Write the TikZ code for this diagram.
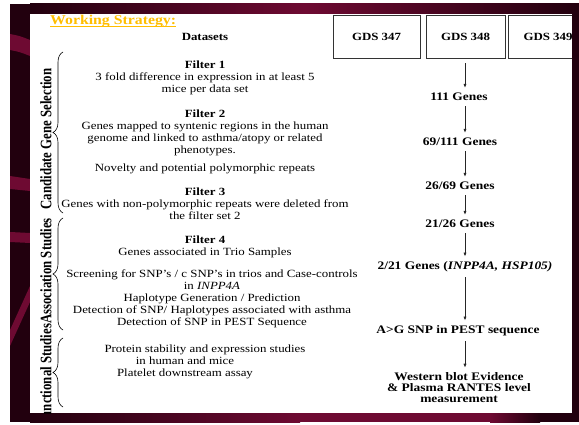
\documentclass[tikz,border=0pt]{standalone}
\usepackage{graphicx}
\usepackage{fontspec}
\setmainfont{Liberation Serif}[FakeStretch=1.17]
\newfontfamily\sidefont{Liberation Serif}
\usetikzlibrary{arrows.meta,decorations.pathreplacing}

\definecolor{frameDark}{RGB}{34,0,14}
\definecolor{frameRed}{RGB}{110,10,50}
\definecolor{titleGold}{RGB}{255,190,0}

\newcommand{\stagelbl}[1]{\scalebox{0.8}[1]{#1}}

\tikzset{
  txt/.style={align=center, inner sep=0pt, anchor=north, font=\fontsize{11}{12}\selectfont},
  head/.style={txt, font=\fontsize{11}{12}\selectfont\bfseries},
  res/.style={align=center, inner sep=0pt, font=\fontsize{11.5}{11}\selectfont\bfseries},
  gds/.style={draw=black!80, line width=0.9pt, minimum height=43pt, inner sep=0pt, font=\fontsize{11}{12}\selectfont\bfseries},
  arr/.style={-{Latex[length=4pt,width=3.2pt]}, line width=0.9pt, black!85, shorten <=5pt, shorten >=5pt},
  brc/.style={decorate, decoration={brace, amplitude=10pt}, line width=0.6pt},
  side/.style={rotate=90, inner sep=0pt, font=\sidefont\fontsize{16}{16}\selectfont\bfseries}
}

\begin{document}
\begin{tikzpicture}[x=1pt, y=-1pt]
  \useasboundingbox (0,0) rectangle (579,425);

  % slide frame
  \fill[white] (0,0) rectangle (579,425);
  \fill[frameDark] (10,4) rectangle (579,422);
  \shade[left color=frameDark, right color=frameDark, middle color=frameRed] (30,4) rectangle (579,14);
  \shade[left color=frameDark, right color=frameRed] (30,413) rectangle (300,422);
  \fill[frameRed] (300,413) rectangle (490,422);
  \shade[left color=frameRed, right color=frameDark] (490,413) rectangle (540,422);
  \fill[frameRed] (10,34) .. controls (20,36) .. (30,40) -- (30,56) .. controls (20,52) .. (10,50) -- cycle;
  \fill[frameRed] (10,176) -- (30,179) -- (30,191) -- (10,189) -- cycle;
  \fill[frameRed] (10,232) -- (30,233) -- (30,243) -- (10,242) -- cycle;
  \fill[frameRed] (10,330) -- (30,286) -- (30,302) -- (10,346) -- cycle;
  \fill[white] (30,14) rectangle (572,413);

  \begin{scope}
    \clip (30,14) rectangle (572,413);

    \node[anchor=base west, inner sep=0pt, text=titleGold, font=\fontsize{13.5}{14}\selectfont\bfseries] (title) at (50,25) {Working Strategy:};
    \draw[titleGold, line width=1pt] ([yshift=-2pt]title.base west) -- ([yshift=-2pt]title.base east);

    % filters
    \node[head] (datasets) at (205,33) {Datasets};
    \node[txt] (filt1) at (205,61) {\textbf{Filter 1}\\3 fold difference in expression in at least 5\\mice per data set};
    \node[txt] (filt2) at (205,110) {\textbf{Filter 2}\\Genes mapped to syntenic regions in the human\\genome and linked to asthma/atopy or related\\phenotypes.};
    \node[txt] (novel) at (205,164) {Novelty and potential polymorphic repeats};
    \node[txt] (filt3) at (205,188) {\textbf{Filter 3}\\Genes with non-polymorphic repeats were deleted from\\the filter set 2};
    \node[txt] (filt4) at (205,236) {\textbf{Filter 4}\\Genes associated in Trio Samples};
    \node[txt] (screen) at (212,270) {Screening for SNP's / c SNP's in trios and Case-controls\\in \textit{INPP4A}\\Haplotype Generation / Prediction\\Detection of SNP/ Haplotypes associated with asthma\\Detection of SNP in PEST Sequence};
    \node[txt] (protein) at (205,345) {Protein stability and expression studies};
    \node[txt] (platelet) at (185,357) {in human and mice\\Platelet downstream assay};

    % stages
    \node[side] (cand) at (46,139) {\stagelbl{Candidate Gene Selection}};
    \node[side] (assoc) at (46,271) {\stagelbl{Association Studies}};
    \node[side] (func) at (46,375) {\stagelbl{Functional Studies}};
    \draw[brc] (63,213) -- (63,52);
    \draw[brc] (63,330) -- (63,218);
    \draw[brc] (63,407) -- (63,338);

    % datasets and gene counts
    \node[gds, minimum width=87pt] (gds347) at (376.5,36.5) {GDS 347};
    \node[gds, minimum width=79pt] (gds348) at (465.5,36.5) {GDS 348};
    \node[gds, minimum width=80pt] (gds349) at (548,36.5) {GDS 349};
    \coordinate (spine) at (465,0);
    \node[res] (n111) at (459,97) {111 Genes};
    \node[res] (n69) at (460,142) {69/111 Genes};
    \node[res] (n26) at (460,186) {26/69 Genes};
    \node[res] (n21) at (460,224) {21/26 Genes};
    \node[res] (n2) at (465,267) {2/21 Genes (\textit{INPP4A, HSP105)}};
    \node[res] (nag) at (458,331) {A>G SNP in PEST sequence};
    \node[res] (nwb) at (459,388) {Western blot Evidence\\\& Plasma RANTES level\\measurement};
    \foreach \a/\b in {gds348/n111,n111/n69,n69/n26,n26/n21,n21/n2,n2/nag,nag/nwb}
      \draw[arr] (\a.south -| spine) -- (\b.north -| spine);
  \end{scope}
\end{tikzpicture}
\end{document}
